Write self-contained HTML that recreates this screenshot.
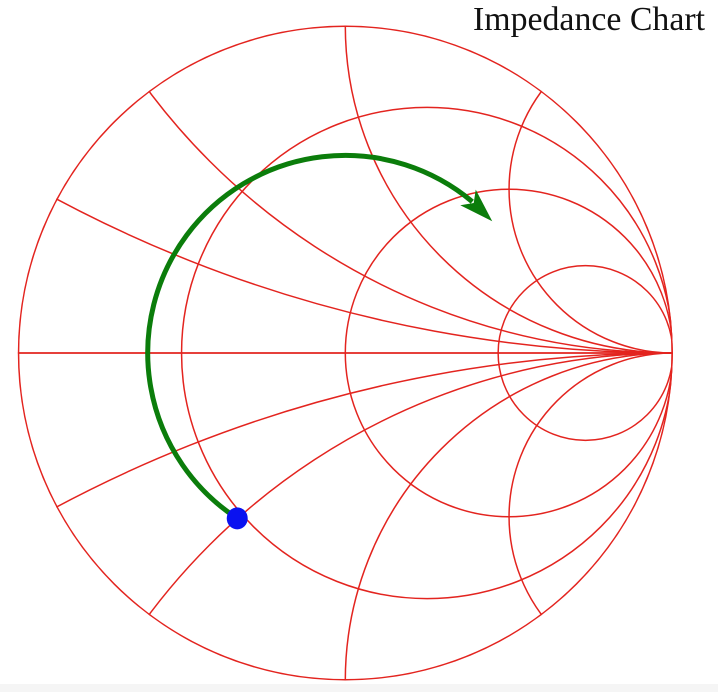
<!DOCTYPE html>
<html><head><meta charset="utf-8"><title>Impedance Chart</title>
<style>html,body{margin:0;padding:0;background:#fff;overflow:hidden;width:718px;height:692px;}svg{display:block;}</style></head>
<body>
<svg id="chart" width="718" height="692" viewBox="0 0 718 692" xmlns="http://www.w3.org/2000/svg">
<rect x="0" y="684" width="718" height="8" fill="#f5f5f5"/>
<text x="705" y="30" text-anchor="end" font-family="Liberation Serif, serif" font-size="34" fill="#111" textLength="232" lengthAdjust="spacingAndGlyphs">Impedance Chart</text>
<defs><clipPath id="unit"><circle cx="345.3" cy="353" r="327.5"/></clipPath></defs>
<g id="grid" clip-path="url(#unit)"></g>
<g id="overlay"></g>
</svg>
<script>
const resistanceValues = [0, 1/3, 1, 2.75];
const reactanceValues = [0.25, 0.5, 1, 2];
const arcEndAngleDeg = [50];
const pointGamma = [{re: -0.33, im: -0.505}];

const NS = 'http://www.w3.org/2000/svg';
const CX = 345.3, CY = 353, R = 327.5;
const gx = g => CX + g * R;
const gy = g => CY - g * R;
const grid = document.getElementById('grid');
const overlay = document.getElementById('overlay');
const RED = '#e3241f';

const axis = document.createElementNS(NS, 'line');
axis.setAttribute('x1', gx(-1)); axis.setAttribute('y1', CY);
axis.setAttribute('x2', gx(1)); axis.setAttribute('y2', CY);
axis.setAttribute('stroke', RED); axis.setAttribute('stroke-width', '1.7');


grid.appendChild(axis);

resistanceValues.forEach(r => {
  const c = document.createElementNS(NS, 'circle');
  c.setAttribute('cx', gx(r / (1 + r)));
  c.setAttribute('cy', CY);
  c.setAttribute('r', R / (1 + r));
  c.setAttribute('fill', 'none');
  c.setAttribute('stroke', RED);
  c.setAttribute('stroke-width', r === 0 ? '3' : '1.5');
  
  
  grid.appendChild(c);
});

reactanceValues.forEach(x => {
  [1, -1].forEach(s => {
    const c = document.createElementNS(NS, 'circle');
    c.setAttribute('cx', gx(1));
    c.setAttribute('cy', gy(s / x));
    c.setAttribute('r', R / x);
    c.setAttribute('fill', 'none');
    c.setAttribute('stroke', RED);
    c.setAttribute('stroke-width', '1.5');
    
    
    grid.appendChild(c);
  });
});

const p = pointGamma[0];
const rad = Math.hypot(p.re, p.im);
const a1 = arcEndAngleDeg[0] * Math.PI / 180;
const p0 = [gx(p.re), gy(p.im)];
const p1 = [gx(rad * Math.cos(a1)), gy(rad * Math.sin(a1))];
const arc = document.createElementNS(NS, 'path');
arc.setAttribute('d', `M${p0[0]},${p0[1]} A${rad*R},${rad*R} 0 1 1 ${p1[0]},${p1[1]}`);
arc.setAttribute('fill', 'none');
arc.setAttribute('stroke', '#0b7d0b');
arc.setAttribute('stroke-width', '5');


overlay.appendChild(arc);

const dir = [Math.sin(a1 - 0.08), Math.cos(a1 - 0.08)];
const nrm = [-dir[1], dir[0]];
const base = [p1[0] - dir[0] * 6, p1[1] - dir[1] * 6];
const tip = [base[0] + dir[0] * 34, base[1] + dir[1] * 34];
const head = document.createElementNS(NS, 'polygon');
head.setAttribute('points', `${tip[0]},${tip[1]} ${base[0] + nrm[0]*11},${base[1] + nrm[1]*11} ${base[0]+dir[0]*8},${base[1]+dir[1]*8} ${base[0] - nrm[0]*11},${base[1] - nrm[1]*11}`);
head.setAttribute('fill', '#0b7d0b');


overlay.appendChild(head);

pointGamma.forEach(q => {
  const d = document.createElementNS(NS, 'ellipse');
  d.setAttribute('cx', gx(q.re)); d.setAttribute('cy', gy(q.im));
  d.setAttribute('rx', 10.5); d.setAttribute('ry', 11);
  d.setAttribute('fill', '#0a12f0');
  
  
  overlay.appendChild(d);
});
</script>
</body></html>
